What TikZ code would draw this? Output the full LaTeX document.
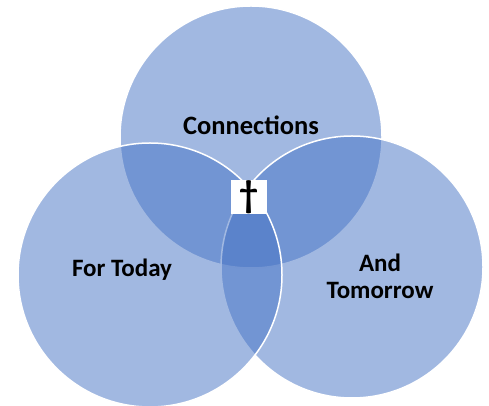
\documentclass[tikz,border=0pt]{standalone}
\usepackage{fontspec}
\setmainfont{Carlito}
\definecolor{vennblue}{HTML}{4472C4}
\begin{document}
\begin{tikzpicture}[x=1pt, y=1pt]
				\useasboundingbox (0,0) rectangle (489,406);
				\tikzset{venn/.style={circle, fill=vennblue, fill opacity=0.5, draw=white, line width=1.5pt, inner sep=0pt, minimum size=262pt}}
				\tikzset{label/.style={font=\fontsize{25}{27}\selectfont\bfseries, align=center}}
				
				%circles
				\node (top) [venn] at (251, 269){};
				\node (tomorrow) [venn] at (352, 139){};
				\node (today) [venn, minimum size=264pt] at (150, 131){};
				
				%labels
				\node (con) at (251, 281) [label, font=\fontsize{26.5}{27}\selectfont\bfseries]{Connections};
				\node (ft) at (122, 136) [label]{For Today};
				\node (at) at (380, 130) [label]{And\\Tomorrow};
				
				%cross
				\node (cross) at (249, 209) [fill=white, minimum width=36pt, minimum height=34pt, inner sep=0pt]{};
				\node (dag) at (cross.center) [inner sep=0pt, font=\fontsize{38}{38}\selectfont\bfseries]{\dag};
			\end{tikzpicture}
\end{document}
